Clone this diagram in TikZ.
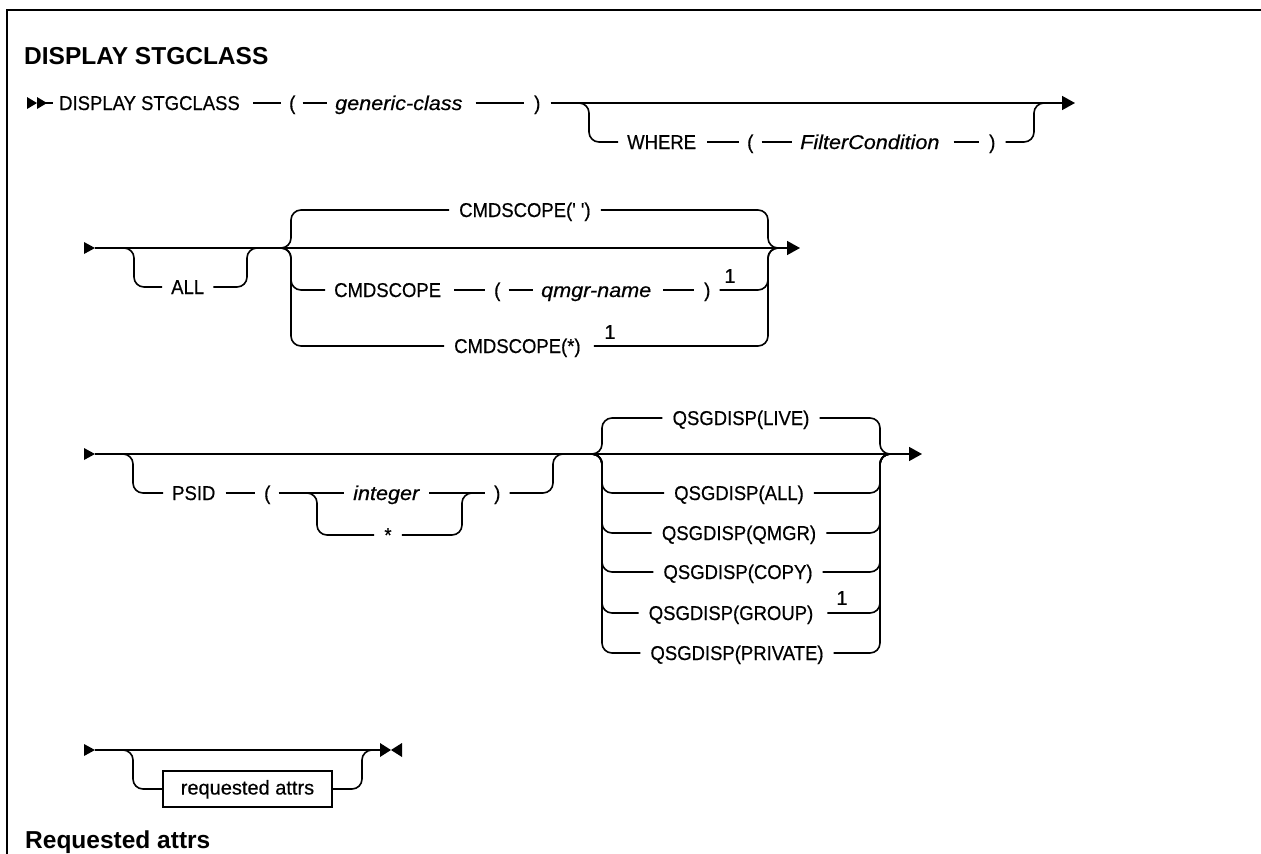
\documentclass[tikz,border=0pt]{standalone}
\usepackage{fontspec}
\setmainfont{Liberation Sans}
\newfontfamily\rf{Liberation Sans}[FakeStretch=0.925,FakeBold=0.5]
\newfontfamily\lf{Liberation Sans}[FakeBold=0.5]
\newfontfamily\itf{Liberation Sans}[FakeStretch=1.08,FakeBold=0.5]
\usetikzlibrary{arrows.meta,calc}
\tikzset{
  conn/.style={line width=1.6pt},
  rc/.style={conn, rounded corners=10pt},
  t/.style={inner sep=0pt, text height=14pt, text depth=0pt, anchor=west, font=\rf\fontsize{20}{24}\selectfont},
  ti/.style={t, font=\itf\itshape\fontsize{20}{24}\selectfont},
  tc/.style={t, anchor=center},
  onenote/.style={inner sep=0pt, font=\lf\fontsize{20}{24}\selectfont},
  arr/.style={conn, -{Triangle[length=13pt,width=14pt]}},
  startmark/.style={fill=black},
  heading/.style={inner sep=0pt, anchor=base west, font=\bfseries\fontsize{24.5}{28}\selectfont},
}
\begin{document}
\begin{tikzpicture}[x=1pt,y=-1pt]
\fill[white] (0,0) rectangle (1261,854);
\useasboundingbox (0,0) rectangle (1261,854);
% frame
\draw[line width=2.6pt] (7,870) -- (7,10) -- (1270,10);
% title
\node[heading] (title) at (24,64) {DISPLAY STGCLASS};

% ---------------- row 1
\fill[startmark] (27,97) -- (37,103) -- (27,109) -- cycle;
\fill[startmark] (37,97) -- (47,103) -- (37,109) -- cycle;
\coordinate (s1) at (45,103);
\node[t] (d1) at (59,103) {DISPLAY STGCLASS};
\node[t] (p1) at (289,103) {(};
\node[ti] (gc) at (335,103) {generic-class};
\node[t] (p2) at (534,103) {)};
\draw[conn] (s1) -- ([xshift=-6]d1.west);
\draw[conn] ([xshift=13]d1.east) -- ([xshift=-8]p1.west);
\draw[conn] ([xshift=7]p1.east) -- ([xshift=-8]gc.west);
\draw[conn] ([xshift=13]gc.east) -- ([xshift=-10]p2.west);
\coordinate (b1) at (589,103);
\coordinate (b2) at (1034,103);
\coordinate (e1) at (1075,103);
\draw[arr] ([xshift=10]p2.east) -- (e1);
\node[t] (wh) at (627,142) {WHERE};
\node[t] (p3) at (747,142) {(};
\node[ti] (fc) at (800,142) {FilterCondition};
\node[t] (p4) at (989,142) {)};
\draw[rc] ([xshift=-16]b1) -- (b1) |- ([xshift=-9]wh.west);
\draw[conn] ([xshift=11]wh.east) -- ([xshift=-8]p3.west);
\draw[conn] ([xshift=8]p3.east) -- ([xshift=-8]fc.west);
\draw[conn] ([xshift=14]fc.east) -- ([xshift=-10]p4.west);
\draw[rc] ([xshift=10]p4.east) -| (b2) -- ([xshift=16]b2);

% ---------------- row 2
\fill[startmark] (84,242) -- (95,248) -- (84,254) -- cycle;
\coordinate (s2) at (95,248);
\coordinate (e2) at (800,248);
\draw[arr] (s2) -- (e2);
\coordinate (a2) at (134,248);
\coordinate (a3) at (247,248);
\node[t] (all) at (171,287) {ALL};
\draw[rc] ([xshift=-16]a2) -- (a2) |- ([xshift=-9]all.west);
\draw[rc] ([xshift=9]all.east) -| (a3) -- ([xshift=16]a3);
\coordinate (f2) at (291,248);
\coordinate (g2) at (768,248);
\node[t] (c1) at (459,210) {CMDSCOPE(\char"27\ \char"27)};
\draw[rc] ([xshift=-16]f2) -- (f2) |- ([xshift=-10]c1.west);
\draw[rc] ([xshift=10]c1.east) -| (g2) -- ([xshift=16]g2);
\node[t] (c2) at (334,290) {CMDSCOPE};
\node[t] (p5) at (494,290) {(};
\node[ti] (qn) at (541,290) {qmgr-name};
\node[t] (p6) at (704,290) {)};
\node[onenote] (n1) at (730,276) {1};
\draw[rc] ([xshift=-16]f2) -- (f2) |- ([xshift=-9]c2.west);
\draw[conn] ([xshift=13]c2.east) -- ([xshift=-9]p5.west);
\draw[conn] ([xshift=8]p5.east) -- ([xshift=-8]qn.west);
\draw[conn] ([xshift=12]qn.east) -- ([xshift=-10]p6.west);
\draw[rc] ([xshift=9]p6.east) -| (g2) -- ([xshift=16]g2);
\node[t] (c3) at (454,346) {CMDSCOPE(*)};
\node[onenote] (n2) at (610,332) {1};
\draw[rc] ([xshift=-16]f2) -- (f2) |- ([xshift=-10]c3.west);
\draw[rc] ([xshift=13]c3.east) -| (g2) -- ([xshift=16]g2);

% ---------------- row 3
\fill[startmark] (84,448) -- (95,454) -- (84,460) -- cycle;
\coordinate (s3) at (95,454);
\coordinate (e3) at (922,454);
\draw[arr] (s3) -- (e3);
\coordinate (a4) at (133,454);
\coordinate (a5) at (553,454);
\node[t] (ps) at (172,493) {PSID};
\node[t] (p7) at (264,493) {(};
\coordinate (f3) at (317,493);
\coordinate (g3) at (462,493);
\node[ti] (in) at (353,493) {integer};
\node[tc] (st) at (388,535) {*};
\node[t] (p8) at (494,493) {)};
\draw[rc] ([xshift=-16]a4) -- (a4) |- ([xshift=-9]ps.west);
\draw[conn] ([xshift=10]ps.east) -- ([xshift=-9]p7.west);
\draw[conn] ([xshift=8]p7.east) -- ([xshift=-9]in.west);
\draw[conn] ([xshift=10]in.east) -- ([xshift=-9]p8.west);
\draw[rc] ([xshift=-16]f3) -- (f3) |- ([xshift=-10]st.west);
\draw[rc] ([xshift=10]st.east) -| (g3) -- ([xshift=16]g3);
\draw[rc] ([xshift=9]p8.east) -| (a5) -- ([xshift=16]a5);
\coordinate (q1) at (602,454);
\coordinate (q2) at (880,454);
\node[tc] (qlive) at (741,418) {QSGDISP(LIVE)};
\node[tc] (qall) at (739,493) {QSGDISP(ALL)};
\node[tc] (qqm) at (739,533) {QSGDISP(QMGR)};
\node[tc] (qcopy) at (738,572) {QSGDISP(COPY)};
\node[tc] (qgroup) at (731,613) {QSGDISP(GROUP)};
\node[tc] (qpriv) at (737,653) {QSGDISP(PRIVATE)};
\node[onenote] (n3) at (842,598) {1};
\foreach \q in {qlive,qall,qqm,qcopy,qpriv}{
  \draw[rc] ([xshift=-16]q1) -- (q1) |- ([xshift=-10]\q.west);
  \draw[rc] ([xshift=10]\q.east) -| (q2) -- ([xshift=16]q2);
}
\draw[rc] ([xshift=-16]q1) -- (q1) |- ([xshift=-10]qgroup.west);
\draw[rc] ([xshift=14]qgroup.east) -| (q2) -- ([xshift=16]q2);

% ---------------- row 4
\fill[startmark] (84,744) -- (95,750) -- (84,756) -- cycle;
\coordinate (s4) at (95,750);
\coordinate (e4) at (381,750);
\draw[conn] (s4) -- (e4);
\fill[startmark] (380,743) -- (391,750) -- (380,757) -- cycle;
\fill[startmark] (402,743) -- (391,750) -- (402,757) -- cycle;
\coordinate (a6) at (133,750);
\coordinate (a7) at (362,750);
\node[draw, line width=1.4pt, inner sep=0pt, minimum width=169pt, minimum height=36pt, text height=14pt, text depth=3pt, font=\lf\fontsize{20}{24}\selectfont] (ra) at (247.5,789) {requested attrs};
\draw[rc] ([xshift=-16]a6) -- (a6) |- (ra.west);
\draw[rc] (ra.east) -| (a7) -- ([xshift=16]a7);

\node[heading] (h2) at (25,848) {Requested attrs};
\end{tikzpicture}
\end{document}
